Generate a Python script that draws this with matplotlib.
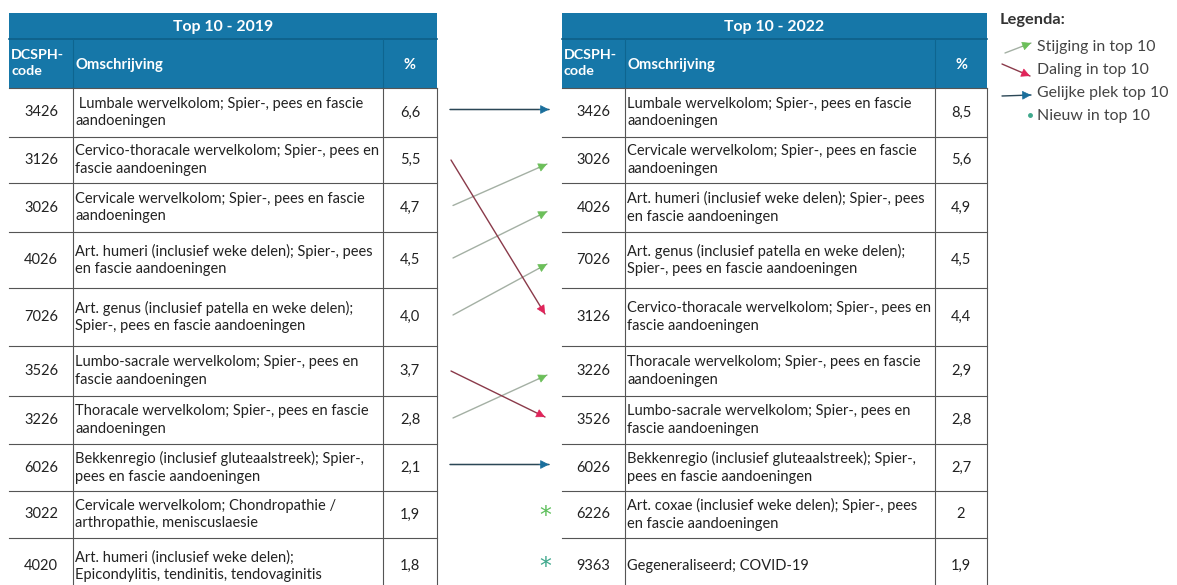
import matplotlib
matplotlib.use("Agg")
import matplotlib.pyplot as plt

# ── Data ──
codes_2019 = ["3426", "3126", "3026", "4026", "7026", "3526", "3226", "6026", "3022", "4020"]
desc_2019 = [
    " Lumbale wervelkolom; Spier-, pees en fascie\naandoeningen",
    "Cervico-thoracale wervelkolom; Spier-, pees en\nfascie aandoeningen",
    "Cervicale wervelkolom; Spier-, pees en fascie\naandoeningen",
    "Art. humeri (inclusief weke delen); Spier-, pees\nen fascie aandoeningen",
    "Art. genus (inclusief patella en weke delen);\nSpier-, pees en fascie aandoeningen",
    "Lumbo-sacrale wervelkolom; Spier-, pees en\nfascie aandoeningen",
    "Thoracale wervelkolom; Spier-, pees en fascie\naandoeningen",
    "Bekkenregio (inclusief gluteaalstreek); Spier-,\npees en fascie aandoeningen",
    "Cervicale wervelkolom; Chondropathie /\narthropathie, meniscuslaesie",
    "Art. humeri (inclusief weke delen);\nEpicondylitis, tendinitis, tendovaginitis",
]
pct_2019 = ["6,6", "5,5", "4,7", "4,5", "4,0", "3,7", "2,8", "2,1", "1,9", "1,8"]

codes_2022 = ["3426", "3026", "4026", "7026", "3126", "3226", "3526", "6026", "6226", "9363"]
desc_2022 = [
    "Lumbale wervelkolom; Spier-, pees en fascie\naandoeningen",
    "Cervicale wervelkolom; Spier-, pees en fascie\naandoeningen",
    "Art. humeri (inclusief weke delen); Spier-, pees\nen fascie aandoeningen",
    "Art. genus (inclusief patella en weke delen);\nSpier-, pees en fascie aandoeningen",
    "Cervico-thoracale wervelkolom; Spier-, pees en\nfascie aandoeningen",
    "Thoracale wervelkolom; Spier-, pees en fascie\naandoeningen",
    "Lumbo-sacrale wervelkolom; Spier-, pees en\nfascie aandoeningen",
    "Bekkenregio (inclusief gluteaalstreek); Spier-,\npees en fascie aandoeningen",
    "Art. coxae (inclusief weke delen); Spier-, pees\nen fascie aandoeningen",
    "Gegeneraliseerd; COVID-19",
]
pct_2022 = ["8,5", "5,6", "4,9", "4,5", "4,4", "2,9", "2,8", "2,7", "2", "1,9"]

legend_labels = ["Stijging in top 10", "Daling in top 10", "Gelijke plek top 10", "Nieuw in top 10"]

# ── Layout (pixels) ──
W, H = 1177, 585
ROW_EDGES = [88, 137, 183, 232, 288, 346, 396, 444, 491, 538, 600]
HEAD_BLUE = "#1677a8"
GRID = "#555555"
FONT = "Lato"
TXT = 10.5

UP, DOWN, SAME = "#6cbf5a", "#e0245a", "#1a6f9c"
UP_LINE, DOWN_LINE, SAME_LINE = "#a4b0a4", "#8a3a4a", "#2b4756"
NEW_COLORS = ["#5cbf5a", "#3fa88c"]

fig = plt.figure(figsize=(W / 100, H / 100), dpi=100)
ax = fig.add_axes([0, 0, 1, 1])
ax.set_xlim(0, W)
ax.set_ylim(H, 0)
ax.axis("off")


def draw_table(x0, cols, title, codes, descs, pcts):
    x_code, x_desc, x_pct, x_end = x0, cols[0], cols[1], cols[2]
    # header
    ax.add_patch(plt.Rectangle((x_code, 13), x_end - x_code, ROW_EDGES[0] - 13,
                               color=HEAD_BLUE, lw=0))
    ax.plot([x_code, x_end], [39, 39], color="#0e5f88", lw=1.2)
    for xv in (x_desc, x_pct):
        ax.plot([xv, xv], [39, ROW_EDGES[0]], color="#0e6590", lw=0.8)
    ax.text((x_code + x_end) / 2, 27, title, color="white", fontsize=11.4,
            fontweight="bold", ha="center", va="center", family=FONT)
    ax.text(x_code + 2, 63, "DCSPH-\ncode", color="white", fontsize=10.3,
            fontweight="bold", ha="left", va="center", family=FONT, linespacing=1.35)
    ax.text(x_desc + 3, 65, "Omschrijving", color="white", fontsize=10.7,
            fontweight="bold", ha="left", va="center", family=FONT)
    ax.text((x_pct + x_end) / 2, 65, "%", color="white", fontsize=10.5,
            fontweight="bold", ha="center", va="center", family=FONT)
    # grid
    for yv in ROW_EDGES[:-1]:
        ax.plot([x_code, x_end], [yv, yv], color=GRID, lw=0.8)
    for xv in (x_desc, x_pct, x_end):
        ax.plot([xv, xv], [ROW_EDGES[0], H], color=GRID, lw=0.8)
    # cells
    for i, (c, d, p) in enumerate(zip(codes, descs, pcts)):
        yc = (ROW_EDGES[i] + ROW_EDGES[i + 1]) / 2
        if i == len(codes) - 1:
            yc = 566
        ax.text((x_code + x_desc) / 2, yc, c, fontsize=TXT, ha="center", va="center",
                family=FONT, color="#222222")
        ax.text(x_desc + 2, yc, d, fontsize=TXT, ha="left", va="center",
                family=FONT, color="#222222", linespacing=1.32)
        ax.text((x_pct + x_end) / 2, yc, p, fontsize=TXT, ha="center", va="center",
                family=FONT, color="#222222")


draw_table(9, (73, 383, 437), "Top 10 - 2019", codes_2019, desc_2019, pct_2019)
draw_table(562, (625, 935, 987), "Top 10 - 2022", codes_2022, desc_2022, pct_2022)


def row_center(i):
    if i == 9:
        return 566
    return (ROW_EDGES[i] + ROW_EDGES[i + 1]) / 2


def arrow(x1, y1, x2, y2, line_col, head_col, lw=1.0):
    ax.annotate("", xy=(x2, y2), xytext=(x1, y1),
                arrowprops=dict(arrowstyle="-", color=line_col, lw=lw,
                                shrinkA=0, shrinkB=0))
    dx, dy = x2 - x1, y2 - y1
    n = (dx ** 2 + dy ** 2) ** 0.5
    ax.annotate("", xy=(x2, y2), xytext=(x2 - dx / n * 10, y2 - dy / n * 10),
                arrowprops=dict(arrowstyle="-|>,head_length=0.55,head_width=0.28",
                                color=head_col, lw=0.5, shrinkA=0, shrinkB=0))


# ── Connections between 2019 and 2022 ──
new_count = 0
for j, code in enumerate(codes_2022):
    y2 = row_center(j)
    if code in codes_2019:
        i = codes_2019.index(code)
        y1 = row_center(i)
        if i == j:
            arrow(450, y1 - 3, 549, y2 - 3, SAME_LINE, SAME, lw=1.1)
        elif j < i:
            arrow(453, y1 - 2, 547, y2 + 4, UP_LINE, UP, lw=1.0)
        else:
            arrow(451, y1, 545, y2 - 3, DOWN_LINE, DOWN, lw=1.0)
    else:
        ax.text(545, y2 + 1, "*", fontsize=17, color=NEW_COLORS[new_count % 2],
                ha="center", va="center", family="DejaVu Sans")
        new_count += 1

# ── Legend ──
ax.text(1000, 20, "Legenda:", fontsize=11.8, fontweight="bold", color="#333333",
        ha="left", va="center", family=FONT)
leg_y = [47, 70, 93, 116]
arrow(1005, 53, 1031, 43, UP_LINE, UP, lw=1.0)
arrow(1002, 64, 1030, 76, DOWN_LINE, DOWN, lw=1.0)
arrow(1002, 96, 1031, 95, SAME_LINE, SAME, lw=1.0)
ax.plot([1030], [115], marker="o", ms=2.5, color="#3fa88c", ls="none")
for lab, yv in zip(legend_labels, leg_y):
    ax.text(1037, yv, lab, fontsize=11.4, color="#444444", ha="left", va="center",
            family=FONT)

fig.savefig("out.png", dpi=100)
